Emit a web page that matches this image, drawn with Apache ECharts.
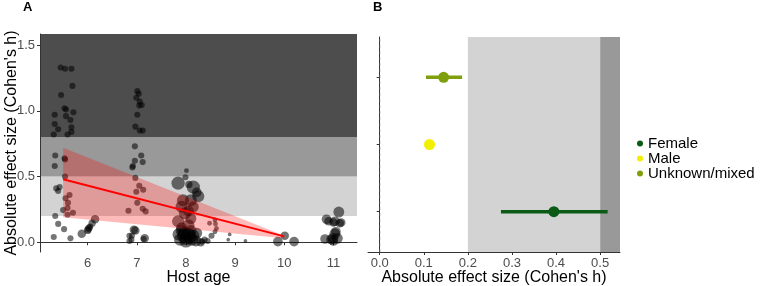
<!DOCTYPE html>
<html>
<head>
<meta charset="utf-8">
<script src="https://cdn.jsdelivr.net/npm/echarts@6.0.0/dist/echarts.min.js"></script>
<style>
  html, body { margin: 0; padding: 0; background: #fff; }
  #main { width: 767px; height: 286px; }
</style>
</head>
<body>
<div id="main"></div>
<script>
// 面板 A：宿主年龄 vs 效应量（散点）
const hostAge = [
    5.45, 5.54, 5.67, 5.69, 5.46, 5.53, 5.56, 5.33, 5.56, 5.71, 5.65, 5.33, 5.40, 5.67, 5.67, 5.31, 5.59,
    5.34, 5.53, 5.54, 5.33, 5.54, 5.43, 5.40, 5.63, 5.55, 5.59, 5.50, 5.70, 5.34, 5.59, 5.40, 5.52, 5.31, 5.65, 5.36, 5.60,
    6.15, 6.09, 6.01, 6.03, 6.00, 5.88, 6.05,
    6.85, 6.89, 6.97, 7.01, 7.04, 6.99, 7.06, 7.10, 7.05, 7.01, 6.97, 7.06, 7.12, 6.96, 7.09, 6.96, 7.12, 6.91, 6.92,
    6.97, 7.05, 7.13, 6.99, 7.01, 7.12, 7.18, 6.83, 6.94, 6.90, 6.85, 7.16, 7.14,
    8.01, 7.99, 7.84, 8.15, 8.06, 8.25, 8.22, 7.94, 8.10, 7.91, 8.15, 7.98, 8.05, 7.84, 8.10, 7.91, 8.05, 7.85, 7.95,
    8.05, 8.15, 8.22, 7.88, 8.00, 8.12, 8.20, 7.90, 8.10, 8.00, 8.30, 7.97, 8.08,
    8.48, 8.59, 8.60, 8.62, 8.59, 8.52, 8.44, 8.33, 8.38, 8.89, 8.86, 9.21,
    10.01, 9.87, 10.20,
    11.11, 10.86, 11.03, 11.13, 11.16, 10.90, 11.00, 11.03, 11.05, 10.99, 10.83, 11.00, 11.08, 10.95
];
const effectSize = [
    1.33, 1.32, 1.32, 1.19, 1.12, 1.02, 1.01, 0.97, 0.96, 0.99, 0.93, 0.90, 0.86, 0.875, 0.84, 0.82, 0.82,
    0.66, 0.64, 0.63, 0.58, 0.50, 0.42, 0.39, 0.36, 0.335, 0.26, 0.245, 0.225, 0.20, 0.21, 0.14, 0.10, 0.04, 0.03, 0.41, 0.30,
    0.175, 0.145, 0.10, 0.11, 0.09, 0.065, 0.12,
    0.05, 0.02, 0.09, 1.15, 1.13, 1.10, 1.07, 1.045, 1.04, 0.97, 0.88, 0.85, 0.85, 0.73, 0.66, 0.62, 0.61, 0.57, 0.58,
    0.49, 0.43, 0.40, 0.385, 0.30, 0.255, 0.235, 0.24, 0.095, 0.05, 0.01, 0.03, 0.025,
    0.545, 0.495, 0.45, 0.42, 0.44, 0.35, 0.38, 0.32, 0.32, 0.27, 0.27, 0.22, 0.24, 0.16, 0.18, 0.11, 0.13, 0.06, 0.05,
    0.06, 0.05, 0.07, 0.02, 0.01, 0.02, 0.01, 0.09, 0.09, 0.03, 0.00, 0.07, 0.04,
    0.145, 0.17, 0.14, 0.105, 0.08, 0.05, 0.01, 0.005, 0.02, 0.06, 0.02, 0.01,
    0.05, 0.005, 0.005,
    0.23, 0.175, 0.16, 0.145, 0.15, 0.16, 0.15, 0.065, 0.08, 0.03, 0.025, 0.01, 0.03, 0.02
];
// 权重（决定点的大小）
const sampleWeight = [
    3, 3, 3, 3, 3, 3, 3, 3, 3, 3, 3, 3, 3, 3, 3, 3, 3,
    3, 3, 3, 3, 3, 3, 3, 3, 3, 3, 3, 3, 3, 3, 3, 3, 3, 3, 3, 3,
    5, 4, 4, 4, 4, 5, 3,
    3, 3, 5, 3, 3, 3, 3, 3, 3, 3, 3, 3, 3, 3, 3, 3, 3, 3, 3,
    3, 3, 3, 3, 3, 3, 3, 3, 5, 3, 3, 5, 3,
    2, 3, 9, 9, 4, 8, 6, 8, 8, 8, 7, 8, 7, 8, 7, 7, 8, 8, 9,
    9, 8, 7, 8, 9, 8, 7, 7, 7, 9, 5, 9, 9,
    2, 2, 2, 2, 2, 3, 3, 3, 3, 1, 1, 1,
    5, 6, 6,
    7, 6, 6, 5, 5, 5, 5, 7, 6, 7, 6, 6, 7, 6
];

// 回归线与置信带
const fitX = [5.5, 10];
const fitY = [0.48, 0.045];
const bandUpper = [0.72, 0.05];
const bandLower = [0.19, 0.03];

// 效应量阈值（Cohen's h：小/中/大）
const cohenLow = [0.2, 0.5, 0.8];
const cohenHigh = [0.5, 0.8, 5];
const cohenColors = ['#d3d3d3', '#999999', '#4d4d4d'];

// 面板 B：按性别
const sexGroups = ['Female', 'Male', 'Unknown/mixed'];
const sexColors = ['#0b5a16', '#f2f000', '#7fa00c'];
const sexEffect = [0.395, 0.113, 0.145];
const sexLower = [0.275, null, 0.105];
const sexUpper = [0.517, null, 0.187];

const ageTicks = [6, 7, 8, 9, 10, 11];
const effectTicks = [0, 0.5, 1, 1.5];
const effectTicksB = [0, 0.1, 0.2, 0.3, 0.4, 0.5];

const chart = echarts.init(document.getElementById('main'));

function bandRenderer(horizontal) {
    return function (params, api) {
        const cs = params.coordSys;
        const lo = api.value(0), hi = api.value(1);
        let rect;
        if (horizontal) {
            const a = api.coord([0, hi])[1], b = api.coord([0, lo])[1];
            rect = { x: cs.x, y: a, width: cs.width, height: b - a };
        } else {
            const a = api.coord([lo, 0])[0], b = api.coord([hi, 0])[0];
            rect = { x: a, y: cs.y, width: b - a, height: cs.height };
        }
        const shape = echarts.graphic.clipRectByRect(rect, cs);
        if (!shape) return;
        return { type: 'rect', shape: shape, style: { fill: cohenColors[params.dataIndex] } };
    };
}

const tickFont = { color: '#4d4d4d', fontSize: 13, fontFamily: 'Liberation Sans, Arial' };
const nameFont = { color: '#000', fontSize: 16, fontFamily: 'Liberation Sans, Arial' };
const axisLine = { show: true, lineStyle: { color: '#333', width: 1 } };
const axisTick = (vals) => ({ show: true, length: 3, lineStyle: { color: '#333' }, customValues: vals });

const option = {
    animation: false,
    backgroundColor: '#fff',
    graphic: [
        { type: 'text', left: 23, top: 1, style: { text: 'A', font: 'bold 13px Liberation Sans, Arial', fill: '#000' } },
        { type: 'text', left: 373, top: 1, style: { text: 'B', font: 'bold 13px Liberation Sans, Arial', fill: '#000' } }
    ],
    legend: {
        data: sexGroups,
        orient: 'vertical',
        left: 632,
        top: 131,
        icon: 'circle',
        itemWidth: 6,
        itemHeight: 6,
        itemGap: 0,
        textStyle: { fontSize: 15, color: '#000', fontFamily: 'Liberation Sans, Arial', lineHeight: 15 }
    },
    grid: [
        { left: 40, top: 34, width: 317, height: 218, outerBoundsMode: 'none', containLabel: false },
        { left: 368, top: 37, width: 252, height: 215, outerBoundsMode: 'none', containLabel: false }
    ],
    xAxis: [
        {
            gridIndex: 0, type: 'value', min: 5.03, max: 11.48,
            name: 'Host age', nameLocation: 'middle', nameGap: 18, nameMoveOverlap: false, nameTextStyle: nameFont,
            axisLine: axisLine, axisTick: axisTick(ageTicks), splitLine: { show: false },
            axisLabel: Object.assign({ customValues: ageTicks, margin: 5 }, tickFont)
        },
        {
            gridIndex: 1, type: 'value', min: -0.0265, max: 0.545,
            name: "Absolute effect size (Cohen's h)", nameLocation: 'middle', nameGap: 18, nameMoveOverlap: false, nameTextStyle: nameFont,
            axisLine: axisLine, axisTick: axisTick(effectTicksB), splitLine: { show: false },
            axisLabel: Object.assign({ customValues: effectTicksB, margin: 5, formatter: v => v.toFixed(1) }, tickFont)
        }
    ],
    yAxis: [
        {
            gridIndex: 0, type: 'value', min: -0.074, max: 1.585,
            name: "Absolute effect size (Cohen's h)", nameLocation: 'middle', nameGap: 20, nameMoveOverlap: false, nameTextStyle: nameFont,
            axisLine: axisLine, axisTick: axisTick(effectTicks), splitLine: { show: false },
            axisLabel: Object.assign({ customValues: effectTicks, margin: 5, formatter: v => v.toFixed(1) }, tickFont)
        },
        {
            gridIndex: 1, type: 'value', min: 0.4, max: 3.6,
            axisLine: axisLine, axisTick: axisTick([1, 2, 3]), splitLine: { show: false },
            axisLabel: { show: false }
        }
    ],
    series: [
        {
            type: 'custom', xAxisIndex: 0, yAxisIndex: 0, z: 0, silent: true,
            encode: { y: [0, 1] },
            data: cohenLow.map((v, i) => [v, cohenHigh[i]]),
            renderItem: bandRenderer(true)
        },
        {
            type: 'scatter', xAxisIndex: 0, yAxisIndex: 0, z: 1,
            data: hostAge.map((x, i) => [x, effectSize[i], sampleWeight[i]]),
            symbolSize: d => 2.5 + d[2] * 1.2,
            itemStyle: { color: 'rgba(0,0,0,0.68)' }
        },
        {
            type: 'custom', xAxisIndex: 0, yAxisIndex: 0, z: 2, silent: true,
            data: fitX.map((x, i) => [x, bandUpper[i], bandLower[i]]),
            renderItem: function (params, api) {
                const i = params.dataIndex;
                if (i >= fitX.length - 1) return;
                const pts = [
                    api.coord([fitX[i], bandUpper[i]]),
                    api.coord([fitX[i + 1], bandUpper[i + 1]]),
                    api.coord([fitX[i + 1], bandLower[i + 1]]),
                    api.coord([fitX[i], bandLower[i]])
                ];
                return { type: 'polygon', shape: { points: pts }, style: { fill: 'rgba(255,0,0,0.27)' } };
            }
        },
        {
            type: 'line', xAxisIndex: 0, yAxisIndex: 0, z: 3, symbol: 'none',
            data: fitX.map((x, i) => [x, fitY[i]]),
            lineStyle: { color: '#ff0000', width: 2 }
        },
        // 面板 B
        {
            type: 'custom', xAxisIndex: 1, yAxisIndex: 1, z: 0, silent: true,
            encode: { x: [0, 1] },
            data: cohenLow.map((v, i) => [v, cohenHigh[i]]),
            renderItem: bandRenderer(false)
        },
        {
            type: 'line', xAxisIndex: 1, yAxisIndex: 1, z: 1, symbol: 'none',
            data: [[0, 0.4], [0, 3.6]],
            lineStyle: { color: '#555', width: 1, type: [3, 3] }
        },
        {
            type: 'custom', xAxisIndex: 1, yAxisIndex: 1, z: 2, silent: true,
            data: sexGroups.map((g, i) => [sexLower[i], sexUpper[i], i + 1]),
            renderItem: function (params, api) {
                const i = params.dataIndex;
                if (sexLower[i] == null) return;
                const a = api.coord([sexLower[i], i + 1]);
                const b = api.coord([sexUpper[i], i + 1]);
                return {
                    type: 'line',
                    shape: { x1: a[0], y1: a[1], x2: b[0], y2: b[1] },
                    style: { stroke: sexColors[i], lineWidth: 3.5 }
                };
            }
        }
    ].concat(sexGroups.map((g, i) => ({
        type: 'scatter', name: g, xAxisIndex: 1, yAxisIndex: 1, z: 3,
        data: [[sexEffect[i], i + 1]],
        symbolSize: 11,
        itemStyle: { color: sexColors[i], opacity: 1 }
    })))
};

chart.setOption(option);
</script>
</body>
</html>
